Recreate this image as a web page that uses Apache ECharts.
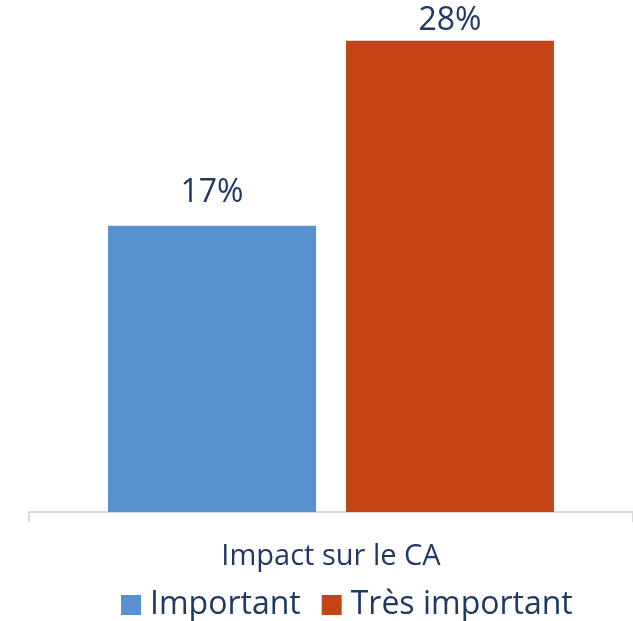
<!DOCTYPE html>
<html><head><meta charset="utf-8">
<script src="https://cdn.jsdelivr.net/npm/echarts@6/dist/echarts.min.js"></script>
<style>html,body{margin:0;padding:0;background:#fff}#c{width:633px;height:621px}</style>
</head><body><div id="c"></div>
<script>
const categories = ['Impact sur le CA'];
const seriesNames = ['Important', 'Très important'];
const importantValues = [17];
const tresImportantValues = [28];
const colors = ['#5791D0', '#C34417'];
const textColor = '#1F3864';
const font = 'Open Sans';

const chart = echarts.init(document.getElementById('c'), null, {renderer: 'canvas'});
const label = {show: true, position: 'top', formatter: '{c}%', color: textColor, fontFamily: font, fontSize: 32};
chart.setOption({
  animation: false,
  textStyle: {fontFamily: font},
  grid: {left: 29, top: 7, width: 608, height: 505, containLabel: false},
  legend: {
    bottom: 0, left: 121, padding: 0,
    itemWidth: 20, itemHeight: 20, itemGap: 21,
    icon: 'rect',
    textStyle: {color: textColor, fontFamily: font, fontSize: 32, padding: [0, 0, 0, 4]},
    data: seriesNames
  },
  xAxis: {
    type: 'category', data: categories,
    axisLine: {lineStyle: {color: '#D9D9D9', width: 2}},
    axisTick: {show: true, length: 10, alignWithLabel: false, lineStyle: {color: '#D9D9D9', width: 2}},
    axisLabel: {color: textColor, fontFamily: font, fontSize: 29, margin: 30}
  },
  yAxis: {type: 'value', min: 0, max: 30, show: false, splitLine: {show: false}},
  series: [
    {name: seriesNames[0], type: 'bar', data: importantValues, barWidth: 208, barGap: '14.4%', itemStyle: {color: colors[0]}, label: Object.assign({}, label, {distance: 17})},
    {name: seriesNames[1], type: 'bar', data: tresImportantValues, barWidth: 208, itemStyle: {color: colors[1]}, label: Object.assign({}, label, {distance: 4})}
  ]
});
</script></body></html>
